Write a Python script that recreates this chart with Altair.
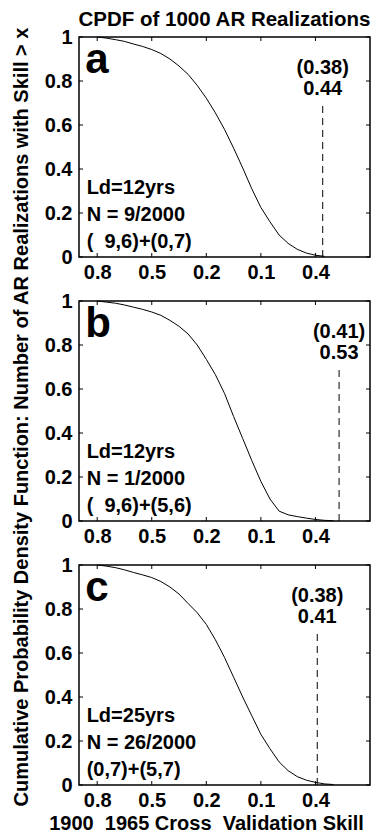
import altair as alt
import pandas as pd

# ---- data ----
skill_x = [-0.80, -0.75, -0.70, -0.65, -0.60, -0.55, -0.50, -0.45, -0.40, -0.35,
           -0.30, -0.25, -0.20, -0.15, -0.10, -0.05, 0.00, 0.05, 0.10, 0.15,
           0.20, 0.25, 0.30, 0.35, 0.40, 0.45, 0.50]
cdf_a = [1.000, 0.995, 0.988, 0.980, 0.968, 0.957, 0.943, 0.925, 0.900, 0.868,
         0.830, 0.780, 0.722, 0.655, 0.580, 0.495, 0.405, 0.310, 0.225, 0.160,
         0.100, 0.062, 0.035, 0.018, 0.008, 0.003]
cdf_b = [1.000, 0.995, 0.990, 0.982, 0.972, 0.962, 0.950, 0.935, 0.912, 0.885,
         0.850, 0.800, 0.735, 0.665, 0.580, 0.475, 0.375, 0.275, 0.180, 0.100,
         0.045, 0.028, 0.020, 0.013, 0.007, 0.003, 0.001]
cdf_c = [1.000, 0.995, 0.988, 0.978, 0.966, 0.955, 0.943, 0.925, 0.900, 0.868,
         0.825, 0.783, 0.730, 0.660, 0.580, 0.490, 0.400, 0.315, 0.230, 0.165,
         0.105, 0.065, 0.038, 0.022, 0.012, 0.005, 0.002]
cdfs = [cdf_a, cdf_b, cdf_c]

letters = ["a", "b", "c"]
ld_text = ["Ld=12yrs", "Ld=12yrs", "Ld=25yrs"]
n_text = ["N = 9/2000", "N = 1/2000", "N = 26/2000"]
combo_text = ["(\u00a0\u00a09,6)+(0,7)", "(\u00a0\u00a09,6)+(5,6)", "(0,7)+(5,7)"]
obs_skill = [0.44, 0.53, 0.41]
obs_text = ["0.44", "0.53", "0.41"]
prior_text = ["(0.38)", "(0.41)", "(0.38)"]

x_ticks = [-0.8, -0.5, -0.2, 0.1, 0.4]
y_ticks = [0, 0.2, 0.4, 0.6, 0.8, 1.0]

title_text = "CPDF of 1000 AR Realizations"
ytitle_text = "Cumulative Probability Density Function: Number of AR Realizations with Skill > x"
xtitle_text = "1900\u00a0\u00a01965 Cross\u00a0\u00a0Validation Skill"

# ---- layout / style ----
W, H = 291, 220
FONT = "Liberation Sans"
FS = 20
xs = alt.Scale(domain=[-0.9, 0.7], nice=False, zero=False)
ys = alt.Scale(domain=[0, 1], nice=False, zero=False)


def panel(i, last):
    cdf = cdfs[i]
    df = pd.DataFrame({"x": skill_x[:len(cdf)], "y": cdf})
    xaxis_kw = dict(values=x_ticks, labelExpr="format(abs(datum.value), '.1f')",
                    ticks=False, domain=False, grid=False, labelPadding=5,
                    labelFont=FONT, labelFontSize=FS, labelFontWeight="bold",
                    labelColor="black")
    if last:
        xaxis_kw.update(title=xtitle_text, titleFont=FONT, titleFontSize=FS,
                        titleFontWeight="bold", titleColor="black", titleX=127,
                        titleAlign="center", titlePadding=3)
    else:
        xaxis_kw.update(title=None)
    xaxis = alt.Axis(**xaxis_kw)
    yaxis = alt.Axis(values=y_ticks, format=".1~f", ticks=False, domain=False,
                     grid=False, labelPadding=7, labelFont=FONT, labelFontSize=FS,
                     labelFontWeight="bold", labelColor="black", title=None)

    def X(f):
        return alt.X(f, scale=xs, axis=xaxis)

    def Y(f):
        return alt.Y(f, scale=ys, axis=yaxis)

    line = alt.Chart(df).mark_line(color="black", strokeWidth=1).encode(
        x=X("x:Q"), y=Y("y:Q"))

    dash_df = pd.DataFrame({"x": [obs_skill[i]], "y0": [0.0], "y1": [0.70]})
    dash = alt.Chart(dash_df).mark_rule(color="black", strokeWidth=1,
                                        strokeDash=[7, 5]).encode(
        x=X("x:Q"), y=Y("y0:Q"), y2="y1:Q")

    letter_df = pd.DataFrame({"x": [-0.865], "y": [0.835], "t": [letters[i]]})
    letter = alt.Chart(letter_df).mark_text(
        font=FONT, fontSize=42, fontWeight="bold", align="left",
        baseline="alphabetic", color="black").encode(
        x=X("x:Q"), y=Y("y:Q"), text="t:N")

    info_df = pd.DataFrame({"x": [-0.858] * 3, "y": [0.285, 0.163, 0.04],
                            "t": [ld_text[i], n_text[i], combo_text[i]]})
    info = alt.Chart(info_df).mark_text(
        font=FONT, fontSize=FS, fontWeight="bold", align="left",
        baseline="alphabetic", color="black").encode(
        x=X("x:Q"), y=Y("y:Q"), text="t:N")

    obs_df = pd.DataFrame({"x": [obs_skill[i]] * 2, "y": [0.83, 0.735],
                           "t": [prior_text[i], obs_text[i]]})
    obs = alt.Chart(obs_df).mark_text(
        font=FONT, fontSize=FS, fontWeight="bold", align="center",
        baseline="alphabetic", color="black").encode(
        x=X("x:Q"), y=Y("y:Q"), text="t:N")

    xt = pd.DataFrame({"x": x_ticks})
    yt = pd.DataFrame({"y": y_ticks})
    tick_b = alt.Chart(xt).mark_rule(color="black", strokeWidth=1).encode(
        x=X("x:Q"), y=alt.value(H), y2=alt.value(H - 4))
    tick_t = alt.Chart(xt).mark_rule(color="black", strokeWidth=1).encode(
        x=X("x:Q"), y=alt.value(0), y2=alt.value(4))
    tick_l = alt.Chart(yt).mark_rule(color="black", strokeWidth=1).encode(
        y=Y("y:Q"), x=alt.value(0), x2=alt.value(4))
    tick_r = alt.Chart(yt).mark_rule(color="black", strokeWidth=1).encode(
        y=Y("y:Q"), x=alt.value(W), x2=alt.value(W - 4))

    layers = [line, dash, letter, info, obs, tick_b, tick_t, tick_l, tick_r]

    if i == 1:
        yt_df = pd.DataFrame({"t": [ytitle_text]})
        ytitle = alt.Chart(yt_df).mark_text(
            font=FONT, fontSize=20, fontWeight="bold", angle=270,
            align="center", baseline="middle", color="black").encode(
            x=alt.value(-57), y=alt.value(116), text="t:N")
        layers.append(ytitle)

    ch = alt.layer(*layers).properties(width=W, height=H)
    if i == 0:
        ch = ch.properties(title=alt.TitleParams(
            title_text, font=FONT, fontSize=20.5, fontWeight="bold",
            color="black", anchor="middle", offset=-3))
    return ch


chart = alt.vconcat(panel(0, False), panel(1, False), panel(2, True),
                    spacing=44, bounds="flush").properties(
    padding={"left": 3, "top": 0, "right": 0, "bottom": 0}, background="white"
).configure_view(stroke="black", strokeWidth=1.5)

chart.save("out.html", embed_options={"renderer": "svg", "actions": False})
